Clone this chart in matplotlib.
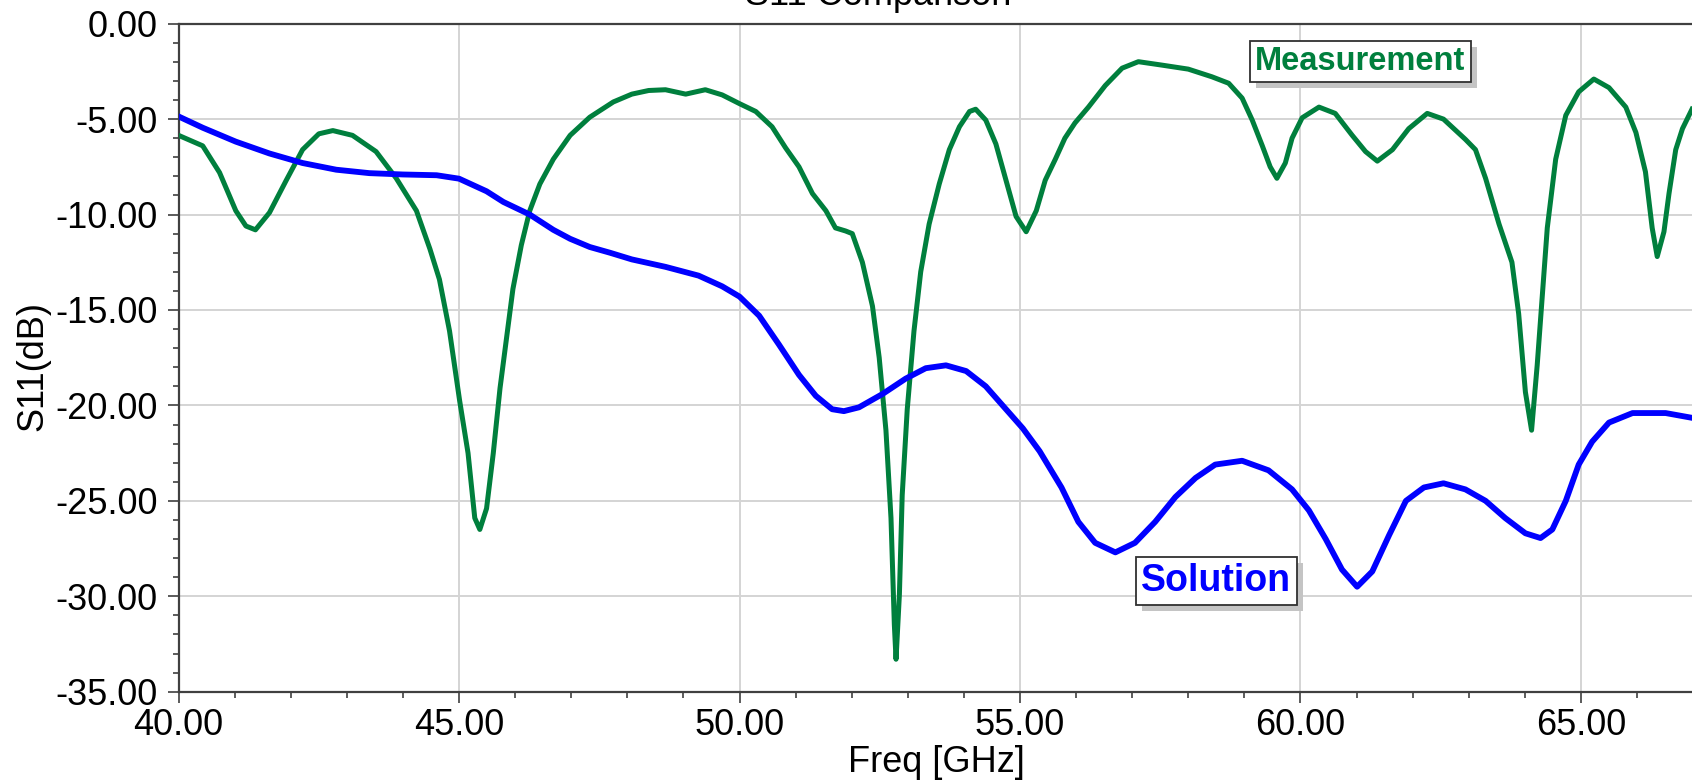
import matplotlib
matplotlib.use("Agg")
import matplotlib.pyplot as plt
import matplotlib.patheffects as pe
from matplotlib.ticker import MultipleLocator, FormatStrFormatter

plt.rcParams['font.family'] = ['Liberation Sans', 'DejaVu Sans']

# measured S11 (green)
meas_freq = [40.0, 40.43, 40.73, 41.02, 41.2, 41.37, 41.62, 41.92, 42.21, 42.5,
             42.75, 43.1, 43.52, 43.88, 44.24, 44.48, 44.65, 44.83, 45.01, 45.16,
             45.28, 45.37, 45.49, 45.61, 45.73, 45.85, 45.96, 46.11, 46.26, 46.44,
             46.68, 46.98, 47.33, 47.75, 48.08, 48.38, 48.68, 49.04, 49.39, 49.69,
             50.0, 50.29, 50.58, 50.82, 51.06, 51.3, 51.54, 51.71, 51.89, 52.01,
             52.19, 52.37, 52.49, 52.61, 52.7, 52.76, 52.79, 52.85, 52.9, 52.99,
             53.11, 53.23, 53.38, 53.56, 53.74, 53.92, 54.1, 54.21, 54.39, 54.57,
             54.75, 54.93, 55.11, 55.29, 55.45, 55.63, 55.8, 55.98, 56.22, 56.52,
             56.82, 57.11, 57.53, 58.0, 58.42, 58.72, 58.96, 59.14, 59.32, 59.46,
             59.58, 59.73, 59.85, 60.03, 60.33, 60.62, 60.92, 61.16, 61.37, 61.64,
             61.93, 62.26, 62.55, 62.94, 63.12, 63.3, 63.54, 63.77, 63.89, 64.01,
             64.12, 64.22, 64.31, 64.4, 64.55, 64.73, 64.96, 65.23, 65.5, 65.8,
             65.98, 66.15, 66.27, 66.36, 66.48, 66.57, 66.69, 66.81, 66.98]
meas_s11 = [-5.85, -6.4, -7.8, -9.8, -10.6, -10.8, -9.9, -8.2, -6.6, -5.77,
            -5.6, -5.85, -6.7, -8.1, -9.8, -11.8, -13.4, -16.1, -19.75, -22.5,
            -25.9, -26.5, -25.4, -22.5, -19.1, -16.4, -13.9, -11.6, -9.8, -8.4,
            -7.1, -5.85, -4.9, -4.1, -3.69, -3.5, -3.46, -3.69, -3.46, -3.73,
            -4.19, -4.6, -5.4, -6.5, -7.5, -8.9, -9.8, -10.7, -10.86, -11.0,
            -12.5, -14.8, -17.5, -21.3, -25.9, -31.5, -33.3, -29.9, -24.7, -20.2,
            -16.1, -13.0, -10.5, -8.4, -6.6, -5.4, -4.6, -4.48, -5.05, -6.3,
            -8.2, -10.1, -10.9, -9.8, -8.2, -7.1, -6.0, -5.2, -4.37, -3.24,
            -2.33, -1.99, -2.17, -2.38, -2.78, -3.12, -3.9, -5.05, -6.4, -7.5,
            -8.1, -7.3, -6.0, -4.93, -4.37, -4.7, -5.84, -6.7, -7.2, -6.6,
            -5.5, -4.7, -5.0, -6.06, -6.6, -8.1, -10.5, -12.5, -15.2, -19.3,
            -21.3, -17.9, -14.3, -10.7, -7.1, -4.8, -3.57, -2.9, -3.35, -4.37,
            -5.7, -7.76, -10.7, -12.2, -10.9, -8.9, -6.6, -5.5, -4.48]

# simulated S11 (blue)
sol_freq = [40.0, 40.43, 41.02, 41.62, 42.21, 42.81, 43.4, 44.0, 44.6, 45.0,
            45.49, 45.79, 46.26, 46.68, 46.98, 47.33, 47.69, 48.08, 48.68, 49.27,
            49.69, 50.0, 50.35, 50.7, 51.06, 51.36, 51.65, 51.86, 52.13, 52.55,
            52.96, 53.32, 53.68, 54.04, 54.39, 54.75, 55.05, 55.35, 55.74, 56.04,
            56.34, 56.7, 57.05, 57.41, 57.77, 58.13, 58.48, 58.96, 59.43, 59.85,
            60.15, 60.45, 60.74, 61.01, 61.28, 61.58, 61.88, 62.2, 62.55, 62.94,
            63.3, 63.65, 64.01, 64.28, 64.49, 64.73, 64.96, 65.2, 65.5, 65.92,
            66.51, 66.98]
sol_s11 = [-4.86, -5.45, -6.18, -6.8, -7.3, -7.65, -7.83, -7.9, -7.94, -8.12,
           -8.78, -9.34, -10.0, -10.8, -11.27, -11.7, -12.0, -12.35, -12.74, -13.2,
           -13.76, -14.3, -15.3, -16.8, -18.4, -19.5, -20.2, -20.3, -20.1, -19.4,
           -18.6, -18.05, -17.9, -18.2, -19.0, -20.2, -21.2, -22.4, -24.3, -26.1,
           -27.2, -27.7, -27.2, -26.1, -24.8, -23.8, -23.1, -22.9, -23.4, -24.4,
           -25.5, -27.0, -28.6, -29.5, -28.7, -26.8, -25.0, -24.3, -24.08, -24.4,
           -25.0, -25.9, -26.7, -26.95, -26.5, -25.0, -23.1, -21.9, -20.9, -20.4,
           -20.4, -20.65]

xticks = [40, 45, 50, 55, 60, 65]
yticks = [-35, -30, -25, -20, -15, -10, -5, 0]

green = '#007F3D'
blue = '#0000FF'
axcol = '#404040'

fig = plt.figure(figsize=(16.92, 7.80), dpi=100)
ax = fig.add_axes([178.6 / 1692, 1 - 691.7 / 780, 1 - 178.6 / 1692, (691.7 - 23.7) / 780])

ax.plot(meas_freq, meas_s11, color=green, lw=3.6, zorder=3, solid_joinstyle='round')
ax.plot(sol_freq, sol_s11, color=blue, lw=4.2, zorder=4, solid_joinstyle='round')

ax.set_xlim(40, 66.98)
ax.set_ylim(-35, 0)
ax.set_xticks(xticks)
ax.set_yticks(yticks)
ax.xaxis.set_minor_locator(MultipleLocator(1))
ax.yaxis.set_minor_locator(MultipleLocator(1))
ax.xaxis.set_major_formatter(FormatStrFormatter('%.2f'))
ax.yaxis.set_major_formatter(FormatStrFormatter('%.2f'))
ax.grid(True, which='major', color='#d4d4d4', lw=1.4, zorder=0)

for s in ['top', 'left', 'bottom']:
    ax.spines[s].set_color(axcol)
    ax.spines[s].set_linewidth(1.6)
ax.spines['right'].set_visible(False)

ax.tick_params(axis='both', which='major', direction='out', length=8, width=1.2,
               color=axcol, labelsize=26)
ax.tick_params(axis='both', which='minor', direction='out', length=4, width=1.2, color=axcol)
ax.tick_params(axis='y', which='major', pad=7)
ax.tick_params(axis='x', which='major', pad=4)

# curve labels: white box with grey drop shadow
def tag(x, y, s, c, size):
    t = ax.text(x, y, s, color=c, fontsize=size, fontweight='bold', ha='center', va='center',
                zorder=6, bbox=dict(boxstyle='square,pad=0.15', fc='white', ec='#303030', lw=1.3))
    t.get_bbox_patch().set_path_effects([
        pe.SimplePatchShadow(offset=(4.3, -4.3), shadow_rgbFace='#c4c4c4', alpha=1),
        pe.Normal()])

tag(61.07, -1.98, 'Measurement', green, 23.5)
tag(58.5, -29.2, 'Solution', blue, 27)

fig.text(878 / 1692, 1 - 5 / 780, 'S11 Comparison', ha='center', va='baseline', fontsize=26)
fig.text(936 / 1692, 1 - 772 / 780, 'Freq [GHz]', ha='center', va='baseline', fontsize=26)
fig.text(33 / 1692, 1 - 366 / 780, 'S11(dB)', ha='center', va='center', rotation=90, fontsize=26)

fig.savefig('out.png', dpi=100)
